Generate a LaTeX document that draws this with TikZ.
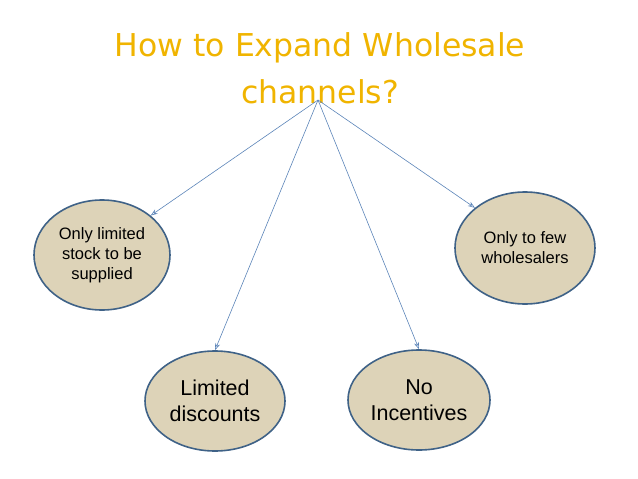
\documentclass[tikz,border=0pt]{standalone}
\usepackage{fontspec}
\setmainfont{Liberation Sans}
\newfontfamily\titlefont{DejaVu Sans}
\usetikzlibrary{shapes.geometric,arrows.meta}
\definecolor{gold}{HTML}{F0B400}
\definecolor{ellfill}{HTML}{DDD3B8}
\definecolor{ellline}{HTML}{3F6287}
\definecolor{arr}{HTML}{5B84B8}
\tikzset{
  oval/.style={ellipse,draw=ellline,line width=1.6pt,fill=ellfill,align=center,inner sep=0pt},
  conn/.style={draw=arr,line width=0.6pt,-{Stealth[length=7pt,width=5pt,open]}}
}
\begin{document}
\begin{tikzpicture}[x=1pt,y=-1pt]
\useasboundingbox (0,0) rectangle (638,479);
\node[text=gold,font=\titlefont\fontsize{31.5}{47}\selectfont,align=center] (title) at (320,68) {How to Expand Wholesale\\channels?};
\coordinate (apex) at (318,100);
\node[oval,minimum width=136pt,minimum height=110pt,font=\fontsize{16.5}{20}\selectfont] (a) at (102,255) {Only limited\\stock to be\\supplied};
\node[oval,minimum width=140pt,minimum height=100pt,font=\fontsize{21.5}{26}\selectfont] (b) at (215,401) {Limited\\discounts};
\node[oval,minimum width=142pt,minimum height=100pt,font=\fontsize{21.5}{26}\selectfont] (c) at (419,400) {No\\Incentives};
\node[oval,minimum width=140pt,minimum height=112pt,font=\fontsize{16.5}{20}\selectfont] (d) at (525,248) {Only to few\\wholesalers};
\draw[conn] (apex) -- (a.north east);
\draw[conn] (apex) -- (b.north);
\draw[conn] (apex) -- (c.north);
\draw[conn] (apex) -- (d.north west);
\end{tikzpicture}
\end{document}
